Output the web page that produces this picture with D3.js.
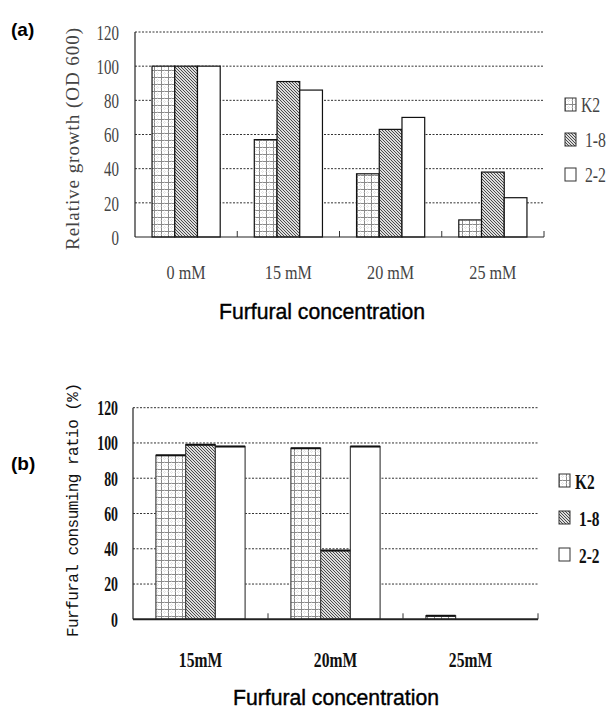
<!DOCTYPE html>
<html>
<head>
<meta charset="utf-8">
<script src="https://cdn.jsdelivr.net/npm/d3@7"></script>
<style>
  body { margin: 0; background: #fff; }
  svg { display: block; }
</style>
</head>
<body>
<script>
// panel (a): relative growth
var catsA = ["0 mM", "15 mM", "20 mM", "25 mM"];
var k2A = [100, 57, 37, 10];
var s18A = [100, 91, 63, 38];
var s22A = [100, 86, 70, 23];

// panel (b): furfural consuming ratio
var catsB = ["15mM", "20mM", "25mM"];
var k2B = [93, 97, 2];
var s18B = [99, 39, 0];
var s22B = [98, 98, 0];

var seriesNames = ["K2", "1-8", "2-2"];
var yTicks = [0, 20, 40, 60, 80, 100, 120];

var width = 611, height = 711;

var svg = d3.select("body").append("svg")
    .attr("width", width)
    .attr("height", height);

var defs = svg.append("defs");

// grid pattern for K2
var grid = defs.append("pattern")
    .attr("id", "grid")
    .attr("patternUnits", "userSpaceOnUse")
    .attr("width", 7).attr("height", 7);
grid.append("rect").attr("width", 7).attr("height", 7).attr("fill", "#fff");
grid.append("path")
    .attr("d", "M0,0.5H7M0.5,0V7")
    .attr("stroke", "#8a8a8a")
    .attr("stroke-width", 1)
    .attr("fill", "none");
grid.append("path")
    .attr("d", "M0,3.5H7M3.5,0V7")
    .attr("stroke", "#d0d0d0")
    .attr("stroke-width", 0.6)
    .attr("stroke-dasharray", "1,1")
    .attr("fill", "none");

// diagonal hatch for 1-8
var hatch = defs.append("pattern")
    .attr("id", "hatch")
    .attr("patternUnits", "userSpaceOnUse")
    .attr("width", 3).attr("height", 3);
hatch.append("rect").attr("width", 3).attr("height", 3).attr("fill", "#ddd");
hatch.append("path")
    .attr("d", "M-1,-1L4,4M-1,2L1,4M2,-1L4,1")
    .attr("stroke", "#3a3a3a")
    .attr("stroke-width", 0.9);

var fills = ["url(#grid)", "url(#hatch)", "#fff"];

// text squeezed horizontally (the original uses a narrow font)
function narrow(sel, x, y, sx) {
    return sel.attr("transform", function(d, i) {
        var xx = typeof x === "function" ? x(d, i) : x;
        var yy = typeof y === "function" ? y(d, i) : y;
        return "translate(" + xx + "," + yy + ") scale(" + sx + ",1)";
    });
}

function panel(opt) {
    var series = [opt.k2, opt.s18, opt.s22];
    var g = svg.append("g");

    var x0 = d3.scaleBand()
        .domain(opt.cats)
        .range([opt.left, opt.right])
        .paddingInner(0).paddingOuter(0);

    var x1 = d3.scaleBand()
        .domain(seriesNames)
        .range([0, x0.bandwidth()])
        .paddingInner(0).paddingOuter(opt.outer);

    var y = d3.scaleLinear()
        .domain([0, 120])
        .range([opt.bottom, opt.top]);

    // dotted grid lines
    g.append("g").selectAll("line")
        .data(yTicks.filter(function(d) { return d > 0; }))
      .enter().append("line")
        .attr("x1", opt.left).attr("x2", opt.right)
        .attr("y1", function(d) { return y(d); })
        .attr("y2", function(d) { return y(d); })
        .attr("stroke", "#333")
        .attr("stroke-width", 1)
        .attr("stroke-dasharray", "2,1.5");

    // bars
    var rows = [];
    opt.cats.forEach(function(c, i) {
        seriesNames.forEach(function(s, j) {
            rows.push({cat: c, s: s, j: j, v: series[j][i]});
        });
    });
    var shown = rows.filter(function(d) { return d.v > 0; });

    g.append("g").selectAll("rect")
        .data(shown)
      .enter().append("rect")
        .attr("x", function(d) { return x0(d.cat) + x1(d.s); })
        .attr("y", function(d) { return y(d.v); })
        .attr("width", x1.bandwidth())
        .attr("height", function(d) { return y(0) - y(d.v); })
        .attr("fill", function(d) { return fills[d.j]; })
        .attr("stroke", opt.barStroke)
        .attr("stroke-width", opt.barStrokeW);

    if (opt.topLine) {
        g.append("g").selectAll("line")
            .data(shown)
          .enter().append("line")
            .attr("x1", function(d) { return x0(d.cat) + x1(d.s); })
            .attr("x2", function(d) { return x0(d.cat) + x1(d.s) + x1.bandwidth(); })
            .attr("y1", function(d) { return y(d.v); })
            .attr("y2", function(d) { return y(d.v); })
            .attr("stroke", "#111")
            .attr("stroke-width", 2);
    }

    // axis lines
    g.append("line")
        .attr("x1", opt.left).attr("x2", opt.left)
        .attr("y1", y(120)).attr("y2", y(0))
        .attr("stroke", "#222").attr("stroke-width", 1.2);
    g.append("line")
        .attr("x1", opt.left).attr("x2", opt.right)
        .attr("y1", y(0)).attr("y2", y(0))
        .attr("stroke", "#222").attr("stroke-width", opt.baseW);

    // category separator ticks
    g.append("g").selectAll("line")
        .data(opt.cats.slice(1).concat(["__end"]))
      .enter().append("line")
        .attr("x1", function(d) { return d === "__end" ? opt.right : x0(d); })
        .attr("x2", function(d) { return d === "__end" ? opt.right : x0(d); })
        .attr("y1", y(0)).attr("y2", y(0) - 6)
        .attr("stroke", "#333").attr("stroke-width", 1);

    // y tick labels
    var yt = g.append("g").selectAll("text")
        .data(yTicks)
      .enter().append("text")
        .attr("dy", "0.35em")
        .attr("text-anchor", "end")
        .style("font-family", "Liberation Serif")
        .style("font-size", opt.tickSize + "px")
        .style("font-weight", opt.tickWeight)
        .attr("fill", opt.tickColor)
        .text(function(d) { return d; });
    narrow(yt, opt.left - opt.tickGap, function(d) { return y(d); }, opt.tickSx);

    // x tick labels
    var xt = g.append("g").selectAll("text")
        .data(opt.cats)
      .enter().append("text")
        .attr("text-anchor", "middle")
        .style("font-family", "Liberation Serif")
        .style("font-size", opt.xTickSize + "px")
        .style("font-weight", opt.tickWeight)
        .attr("fill", opt.tickColor)
        .text(function(d) { return d; });
    narrow(xt, function(d) { return x0(d) + x0.bandwidth() / 2; }, opt.xLabelY, opt.xTickSx);

    // x title
    g.append("text")
        .attr("x", opt.titleX - 103)
        .attr("y", opt.titleY)
        .attr("textLength", 206)
        .attr("lengthAdjust", "spacingAndGlyphs")
        .style("font-family", "Liberation Sans")
        .style("font-size", "22px")
        .attr("fill", "#000")
        .attr("stroke", "#000")
        .attr("stroke-width", 0.4)
        .text("Furfural concentration");

    // y title
    g.append("text")
        .attr("transform", "translate(" + opt.yTitleX + "," + (opt.yTitleY + opt.yTitleLen / 2) + ") rotate(-90)")
        .attr("dy", "0.35em")
        .attr("textLength", opt.yTitleLen)
        .attr("lengthAdjust", "spacing")
        .style("font-family", opt.yTitleFont)
        .style("font-size", opt.yTitleSize + "px")
        .attr("fill", opt.yTitleColor)
        .text(opt.yTitle);

    // panel letter
    g.append("text")
        .attr("x", 11).attr("y", opt.letterY)
        .style("font-family", "Liberation Sans")
        .style("font-size", "19px")
        .style("font-weight", "bold")
        .text(opt.letter);

    // legend
    var leg = g.append("g").selectAll("g")
        .data(seriesNames)
      .enter().append("g")
        .attr("transform", function(d, i) {
            return "translate(" + opt.legX + "," + (opt.legY + i * opt.legStep) + ")";
        });
    leg.append("rect")
        .attr("x", 0).attr("y", -6)
        .attr("width", 11).attr("height", 13)
        .attr("fill", function(d, i) { return fills[i]; })
        .attr("stroke", "#333").attr("stroke-width", 1);
    var lt = leg.append("text")
        .attr("dy", "0.35em")
        .style("font-family", "Liberation Serif")
        .style("font-size", opt.legSize + "px")
        .style("font-weight", opt.tickWeight)
        .attr("fill", opt.tickColor)
        .text(function(d) { return d; });
    narrow(lt, function(d, i) { return i === 0 ? 16 : 20; }, 1, opt.legSx);
}

panel({
    cats: catsA, k2: k2A, s18: s18A, s22: s22A,
    left: 135, right: 544, top: 32, bottom: 237,
    outer: 0.75,
    barStroke: "#111", barStrokeW: 1.2, topLine: false, baseW: 1.2,
    tickGap: 16, tickSize: 22, tickSx: 0.68, tickWeight: "normal", tickColor: "#444",
    xLabelY: 279, xTickSize: 19, xTickSx: 0.85,
    titleX: 322, titleY: 319,
    yTitleX: 72, yTitleY: 139, yTitleLen: 222, yTitleFont: "Liberation Serif", yTitleSize: 19, yTitleColor: "#444",
    yTitle: "Relative growth (OD 600)",
    letter: "(a)", letterY: 36,
    legX: 565, legY: 104, legStep: 35, legSize: 21, legSx: 0.75
});

panel({
    cats: catsB, k2: k2B, s18: s18B, s22: s22B,
    left: 133, right: 538, top: 407.7, bottom: 619.3,
    outer: 0.77,
    barStroke: "#444", barStrokeW: 1.2, topLine: true, baseW: 2,
    tickGap: 15, tickSize: 21, tickSx: 0.66, tickWeight: "bold", tickColor: "#111",
    xLabelY: 667, xTickSize: 20, xTickSx: 0.78,
    titleX: 336, titleY: 705,
    yTitleX: 72, yTitleY: 510, yTitleLen: 254, yTitleFont: "Liberation Mono", yTitleSize: 16, yTitleColor: "#111",
    yTitle: "Furfural consuming ratio (%)",
    letter: "(b)", letterY: 470,
    legX: 559, legY: 480, legStep: 37, legSize: 22, legSx: 0.7
});
</script>
</body>
</html>
